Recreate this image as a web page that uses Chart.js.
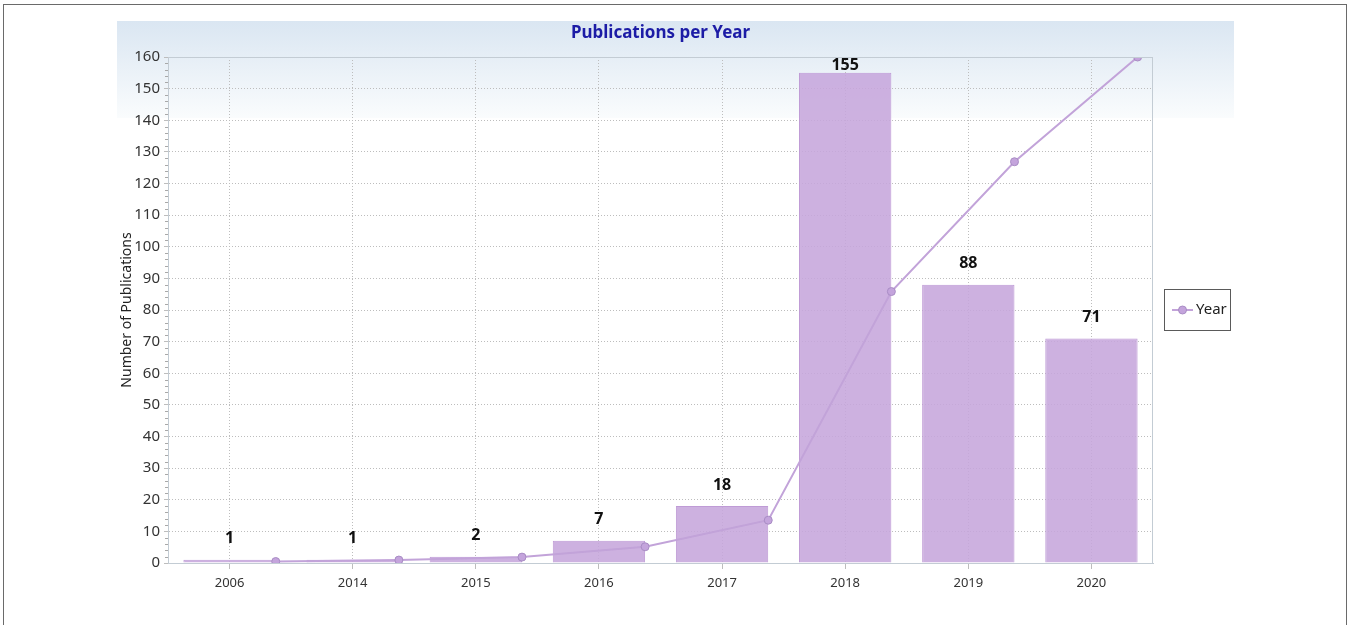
<!DOCTYPE html>
<html>
<head>
<meta charset="utf-8">
<title>Publications per Year</title>
<script src="https://cdn.jsdelivr.net/npm/chart.js@4.4.0/dist/chart.umd.min.js"></script>
<style>
  html, body { margin: 0; padding: 0; background: #fff; overflow: hidden; }
  #wrap { position: relative; width: 1351px; height: 625px; }
  #frame { position: absolute; left: 3px; top: 4px; width: 1344px; height: 640px; border: 1.5px solid #6a6a6a; box-sizing: border-box; pointer-events: none; }
  canvas { position: absolute; left: 0; top: 0; }
</style>
</head>
<body>
<div id="wrap">
  <canvas id="pubChart" width="1351" height="625"></canvas>
  <div id="frame"></div>
</div>
<script>
const years = ['2006', '2014', '2015', '2016', '2017', '2018', '2019', '2020'];
const publications = [1, 1, 2, 7, 18, 155, 88, 71];
const cumulative = [1, 2, 4, 11, 29, 184, 272, 343];
const yMax = 160;
const yStep = 10;
const cumulativeMax = 343;

const BAR_PCT = 0.75;
const barFill = 'rgba(198, 166, 220, 0.88)';
const barEdge = '#bf9bd6';
const lineColor = '#c2a3d9';
const FONT = '"Noto Sans", "Open Sans", sans-serif';

// points of the running total sit on the right edge of each bar
const linePoints = cumulative.map((v, i) => ({ x: i + BAR_PCT / 2, y: v }));

const backdrop = {
  id: 'backdrop',
  beforeDraw(chart) {
    const { ctx, chartArea } = chart;
    ctx.save();
    const g = ctx.createLinearGradient(0, 21, 0, 118);
    g.addColorStop(0, '#dae6f2');
    g.addColorStop(1, '#fafcfd');
    ctx.fillStyle = g;
    ctx.fillRect(117, 21, 1117, 97);
    ctx.fillStyle = '#1c1ca6';
    ctx.font = 'bold 17px ' + FONT;
    ctx.textAlign = 'center';
    ctx.textBaseline = 'middle';
    ctx.fillText('Publications per Year', (chartArea.left + chartArea.right) / 2, 33);
    ctx.restore();
  },
  afterDraw(chart) {
    const { ctx, chartArea, scales } = chart;
    ctx.save();
    // plot frame
    ctx.strokeStyle = '#c3ccd4';
    ctx.lineWidth = 1;
    ctx.strokeRect(chartArea.left + 0.5, chartArea.top + 0.5,
      chartArea.right - chartArea.left - 1, chartArea.bottom - chartArea.top);
    // minor ticks on the count axis
    ctx.strokeStyle = '#a8a8a8';
    for (let v = 2; v < yMax; v += 2) {
      if (v % yStep === 0) continue;
      const y = Math.round(scales.y.getPixelForValue(v)) + 0.5;
      ctx.beginPath();
      ctx.moveTo(chartArea.left - 3, y);
      ctx.lineTo(chartArea.left, y);
      ctx.stroke();
    }
    // legend box
    const lx = 1164, ly = 289, lw = 66, lh = 41;
    ctx.strokeStyle = '#5a5a5a';
    ctx.strokeRect(lx + 0.5, ly + 0.5, lw, lh);
    const my = ly + lh / 2 + 0.5;
    ctx.strokeStyle = lineColor;
    ctx.lineWidth = 2;
    ctx.beginPath();
    ctx.moveTo(lx + 8, my);
    ctx.lineTo(lx + 29, my);
    ctx.stroke();
    ctx.beginPath();
    ctx.arc(lx + 18.5, my, 4, 0, Math.PI * 2);
    ctx.fillStyle = '#c4a4dc';
    ctx.fill();
    ctx.strokeStyle = '#a88cc4';
    ctx.lineWidth = 1;
    ctx.stroke();
    ctx.fillStyle = '#222';
    ctx.font = '15px ' + FONT;
    ctx.textAlign = 'left';
    ctx.textBaseline = 'middle';
    ctx.fillText(chart.data.datasets[1].label, lx + 32, my);
    ctx.restore();
  }
};

const barValues = {
  id: 'barValues',
  afterDatasetsDraw(chart) {
    const { ctx, chartArea } = chart;
    const meta = chart.getDatasetMeta(0);
    ctx.save();
    ctx.fillStyle = '#111';
    ctx.font = 'bold 16px ' + FONT;
    ctx.textAlign = 'center';
    ctx.textBaseline = 'middle';
    meta.data.forEach((bar, i) => {
      const y = Math.max(bar.y - 21, chartArea.top + 8);
      ctx.fillText(String(publications[i]), bar.x, y);
    });
    ctx.restore();
  }
};

const ctx = document.getElementById('pubChart').getContext('2d');
new Chart(ctx, {
  type: 'bar',
  data: {
    labels: years,
    datasets: [{
      label: 'Publications',
      data: publications,
      backgroundColor: barFill,
      borderColor: barEdge,
      borderWidth: 1,
      grouped: false,
      categoryPercentage: 1,
      barPercentage: BAR_PCT,
      order: 1
    }, {
      type: 'line',
      label: 'Year',
      data: linePoints,
      xAxisID: 'xLine',
      yAxisID: 'yLine',
      borderColor: lineColor,
      borderWidth: 2,
      tension: 0,
      pointRadius: 4,
      pointBackgroundColor: '#c4a4dc',
      pointBorderColor: '#a88cc4',
      pointBorderWidth: 1,
      order: 0
    }]
  },
  options: {
    responsive: false,
    animation: false,
    layout: {
      padding: { left: 110, right: 198, top: 57, bottom: 22 }
    },
    plugins: {
      legend: { display: false },
      tooltip: { enabled: false }
    },
    scales: {
      x: {
        grid: {
          offset: false,
          color: '#bdbdbd',
          tickLength: 6
        },
        border: { color: '#c3ccd4', dash: [1, 2] },
        ticks: {
          color: '#333',
          font: { family: FONT, size: 13 },
          padding: 6
        },
        afterFit(scale) { scale.height = 40; }
      },
      y: {
        min: 0,
        max: yMax,
        grid: {
          color: '#bdbdbd',
          tickLength: 4
        },
        border: { color: '#c3ccd4', dash: [1, 2] },
        ticks: {
          stepSize: yStep,
          color: '#333',
          font: { family: FONT, size: 15 },
          padding: 4
        },
        title: {
          display: true,
          text: 'Number of Publications',
          color: '#222',
          font: { family: FONT, size: 14 },
          padding: { top: 9, bottom: 0 }
        },
        afterFit(scale) { scale.width = 58; }
      },
      xLine: {
        type: 'linear',
        display: false,
        offset: false,
        grid: { offset: false },
        min: -0.5,
        max: years.length - 0.5
      },
      yLine: {
        display: false,
        min: 0,
        max: cumulativeMax
      }
    }
  },
  plugins: [backdrop, barValues]
});
</script>
</body>
</html>
